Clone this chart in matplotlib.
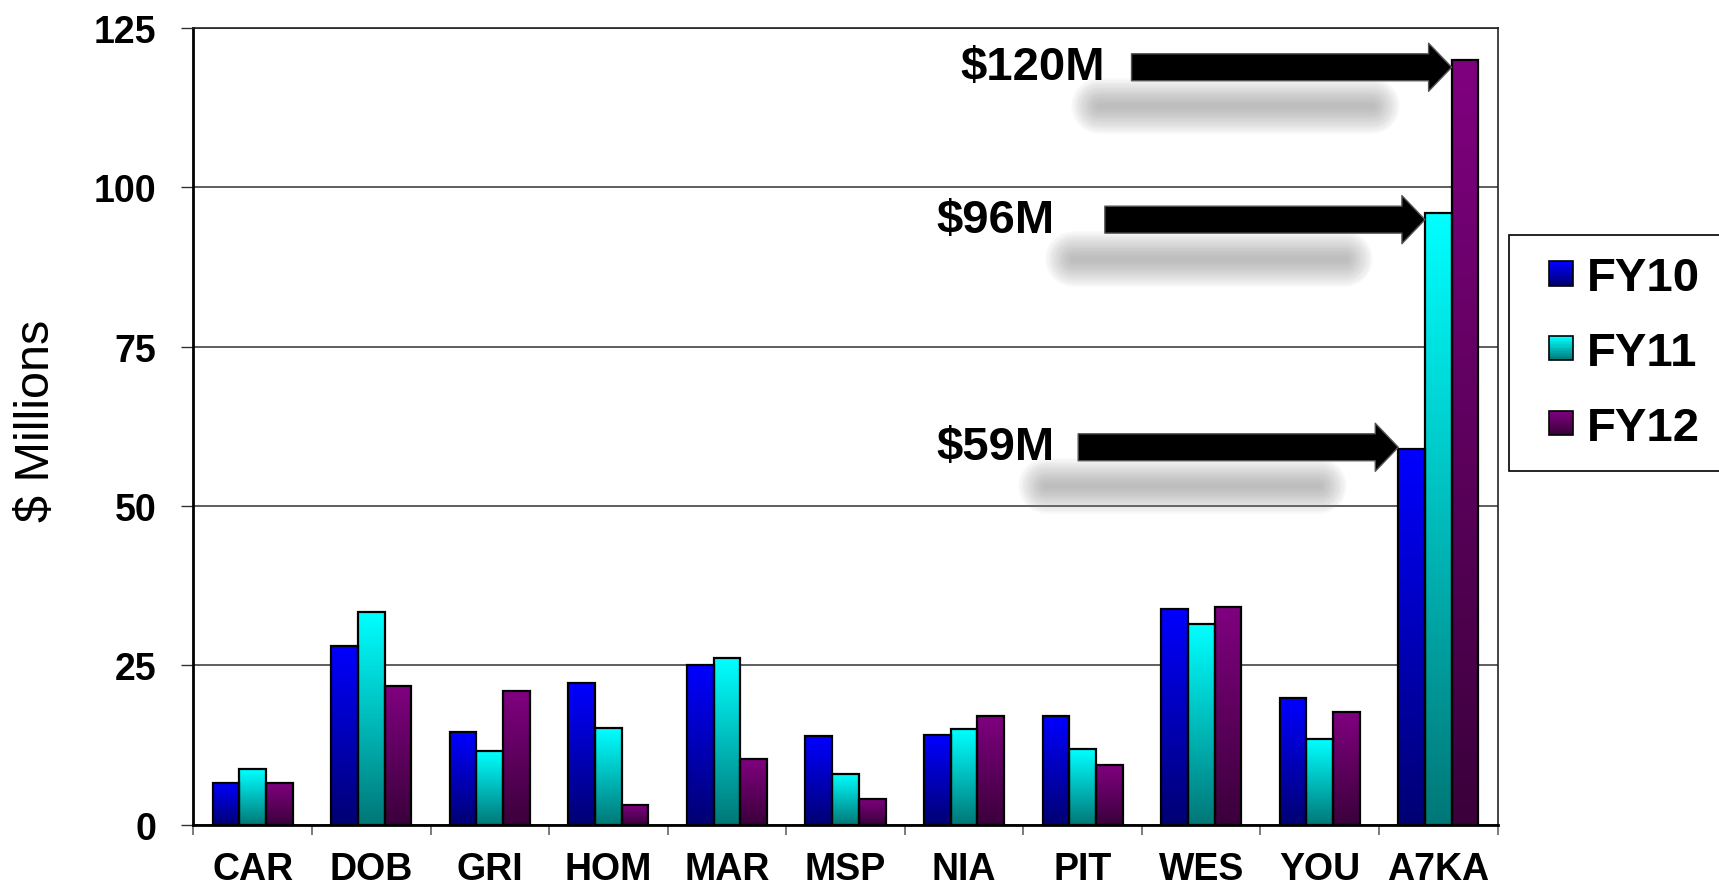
import numpy as np
import matplotlib
matplotlib.use("Agg")
import matplotlib.pyplot as plt
from matplotlib.patches import Rectangle, FancyArrowPatch, ArrowStyle
from matplotlib.legend_handler import HandlerBase
from matplotlib.transforms import offset_copy

# data ($ millions)
categories = ["CAR", "DOB", "GRI", "HOM", "MAR", "MSP", "NIA", "PIT", "WES", "YOU", "A7KA"]
fy10 = [6.6, 28.1, 14.5, 22.2, 25.0, 13.9, 14.1, 17.0, 33.8, 19.9, 59.0]
fy11 = [8.7, 33.4, 11.6, 15.1, 26.1, 8.0, 15.0, 11.8, 31.5, 13.4, 96.0]
fy12 = [6.5, 21.7, 20.9, 3.1, 10.3, 4.1, 17.1, 9.4, 34.2, 17.7, 120.0]
series_names = ["FY10", "FY11", "FY12"]

callout_labels = ["$59M", "$96M", "$120M"]
callout_values = [59, 96, 120]

# gradient colours per series: top -> bottom
tops = [(0.0, 0.0, 1.0), (0.0, 1.0, 1.0), (0.5, 0.0, 0.5)]
bottoms = [(0.0, 0.0, 0.45), (0.0, 0.47, 0.47), (0.23, 0.0, 0.23)]

plt.rcParams["font.family"] = ["Liberation Sans", "DejaVu Sans"]
plt.rcParams["font.weight"] = "bold"


def gradient(top, bottom, n=64):
    t = np.linspace(0.0, 1.0, n)[:, None, None]
    return np.array(top)[None, None, :] * (1 - t) + np.array(bottom)[None, None, :] * t


class GradientHandler(HandlerBase):
    """Legend key: small square with the same vertical gradient as the bars."""

    def __init__(self, top, bottom, side=17.3):
        super().__init__()
        self.top, self.bottom, self.side = top, bottom, side

    def create_artists(self, legend, orig_handle, xdescent, ydescent,
                       width, height, fontsize, trans):
        x0 = width - self.side - xdescent
        y0 = -ydescent + height / 2 - self.side / 2
        arts = []
        n = 16
        for k in range(n):
            f = k / (n - 1)
            c = tuple(b + (t - b) * f for t, b in zip(self.top, self.bottom))
            arts.append(Rectangle((x0, y0 + self.side * k / n), self.side, self.side / n + 0.05,
                                  facecolor=c, edgecolor="none", transform=trans))
        arts.append(Rectangle((x0, y0), self.side, self.side, facecolor="none",
                              edgecolor="black", linewidth=1.2, transform=trans))
        return arts


fig = plt.figure(figsize=(17.19, 8.87), dpi=100)
ax = fig.add_axes([0.1125, 0.0691, 0.7587, 0.8985])

x = np.arange(len(categories))
w = 0.225
offsets = [-w, 0.0, w]
all_series = [fy10, fy11, fy12]

for vals, off, top, bot in zip(all_series, offsets, tops, bottoms):
    bars = ax.bar(x + off, vals, width=w, facecolor="none", edgecolor="black",
                  linewidth=1.6, zorder=3)
    grad = gradient(top, bot)
    for b in bars:
        x0 = b.get_x()
        ax.imshow(grad, extent=(x0, x0 + w, 0, b.get_height()), aspect="auto",
                  origin="upper", interpolation="bilinear", zorder=2)

# callout arrows pointing at the A7KA bars
last = len(categories) - 1
text_right = [6.76, 6.76, 7.19]
tip_drop = [-0.2, 1.1, 1.2]
shadow_tr = offset_copy(ax.transData, fig=fig, x=-36, y=-28, units="points")
for k, (lab, val, tx, dy) in enumerate(zip(callout_labels, callout_values, text_right, tip_drop)):
    tip_x = last + offsets[k] - w / 2
    y = val - dy
    start_x = tip_x - 2.7
    # soft drop shadow built from stacked translucent strokes
    for lw in np.linspace(40, 4, 16):
        ax.plot([start_x + 0.15, tip_x - 0.25], [y, y], color="#8a8a8a", alpha=0.045,
                lw=lw, solid_capstyle="round", transform=shadow_tr, zorder=4)
    arr = FancyArrowPatch((start_x, y), (tip_x, y),
                          arrowstyle=ArrowStyle.Simple(head_length=16.6, head_width=34.6,
                                                       tail_width=19.4),
                          mutation_scale=1, shrinkA=0, shrinkB=0,
                          facecolor="black", edgecolor="#555555", linewidth=1.0, zorder=5)
    ax.add_patch(arr)
    ax.text(tx, y, lab, ha="right", va="center", fontsize=34, fontweight="bold", zorder=6)

ax.set_xlim(-0.5, len(categories) - 0.5)
ax.set_ylim(0, 125)

ax.set_yticks([0, 25, 50, 75, 100, 125])
ax.tick_params(axis="y", direction="out", length=8.6, width=1.0, pad=18,
               labelsize=27, color="#333333")
ax.set_xticks(np.arange(len(categories) + 1) - 0.5, labels=[])
ax.set_xticks(x, labels=categories, minor=True)
ax.tick_params(axis="x", which="major", direction="out", length=7.2, width=1.2, color="#666666")
ax.tick_params(axis="x", which="minor", length=0, pad=19, labelsize=27)
for t in ax.get_xticklabels(minor=True) + ax.get_yticklabels():
    t.set_fontweight("bold")

ax.yaxis.grid(True, color="#333333", linewidth=1.1)
ax.set_axisbelow(True)
for side in ["left", "bottom"]:
    ax.spines[side].set_linewidth(2.0)
    ax.spines[side].set_color("black")
for side in ["top", "right"]:
    ax.spines[side].set_linewidth(1.2)
    ax.spines[side].set_color("#222222")

fig.text(36 / 1719, 0.525, "$ Millions", rotation=90, ha="center", va="center",
         fontsize=35, fontweight="normal",
         family=["Liberation Sans Narrow", "Liberation Sans", "DejaVu Sans"])

handles = [Rectangle((0, 0), 1, 1) for _ in series_names]
hmap = {h: GradientHandler(t, b) for h, t, b in zip(handles, tops, bottoms)}
leg = ax.legend(handles, series_names, handler_map=hmap, loc="upper left",
                bbox_to_anchor=(1509 / 1719, 1 - 236 / 887), bbox_transform=fig.transFigure,
                frameon=True, fancybox=False, edgecolor="black", framealpha=1,
                prop=dict(weight="bold", size=34), handlelength=0.9, handleheight=0.5,
                handletextpad=0.3, labelspacing=0.65, borderpad=0.45, borderaxespad=0)
leg.get_frame().set_linewidth(1.2)

fig.savefig("out.png", dpi=100)
